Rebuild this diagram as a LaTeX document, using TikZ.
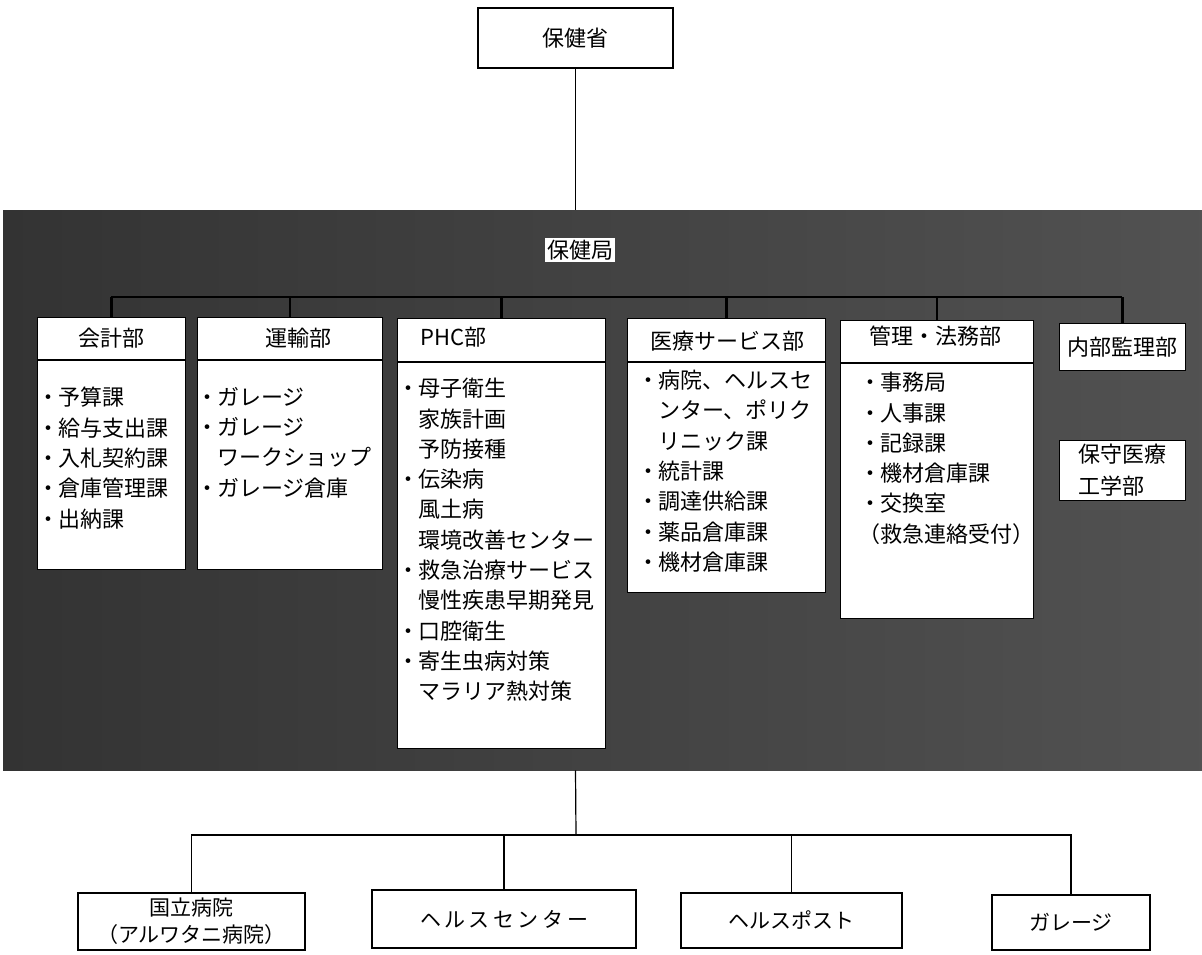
\documentclass[tikz,border=0pt]{standalone}
\usepackage{fontspec}
\setmainfont{Noto Sans CJK JP}
\newcommand\bul{\makebox[0.5em][l]{\hspace*{-0.45em}・}}
\newcommand\indt{\hspace*{0.5em}}
\tikzset{
  band/.style={shade, left color=black!80, middle color=black!55, right color=black!68, inner sep=0pt, anchor=north west},
  dept/.style={draw=black, line width=0.8pt, fill=white, inner sep=0pt, anchor=north west},
  hdr/.style={line width=1.2pt},
  ttl/.style={font=\fontsize{22}{26}\selectfont, inner sep=0pt},
  body/.style={font=\fontsize{22}{30.3}\selectfont, align=left, anchor=north west, inner sep=0pt},
  lbox/.style={draw=black, line width=1.1pt, fill=white, inner sep=0pt, font=\fontsize{21}{27}\selectfont, align=center},
  lbl/.style={fill=white, inner sep=2pt, font=\fontsize{22}{26}\selectfont},
  conn/.style={line width=1.2pt},
  bus/.style={line width=2.2pt, black}
}
\begin{document}
\begin{tikzpicture}[x=1pt,y=-1pt]
\useasboundingbox (0,0) rectangle (1202,954);
\fill[white] (0,0) rectangle (1202,954);

% top box
\node[lbox, font=\fontsize{22}{26}\selectfont, minimum width=195pt, minimum height=60pt] (moh) at (575.5,38) {保健省};

% band
\node[band, minimum width=1199pt, minimum height=560pt] (band) at (3,210) {};
\draw[conn] (moh.south) -- (moh.south |- band.north);
\node[lbl] (kyoku) at (580,250) {保健局};

% department boxes
\node[dept, minimum width=148pt, minimum height=252pt] (kaikei) at (37,317) {};
\node[dept, minimum width=185pt, minimum height=252pt] (unyu) at (197,317) {};
\node[dept, minimum width=208pt, minimum height=430pt] (phc) at (397,318) {};
\node[dept, minimum width=198pt, minimum height=274pt] (iryo) at (627,318) {};
\node[dept, minimum width=193pt, minimum height=298pt] (kanri) at (840,320) {};
\node[dept, minimum width=126pt, minimum height=47pt, font=\fontsize{22}{26}\selectfont] (naibu) at (1059,323) {内部監理部};
\node[dept, minimum width=126pt, minimum height=60pt, align=left, font=\fontsize{22}{32}\selectfont] (hoshu) at (1059,440) {保守医療\\工学部};

% header separators
\draw[hdr] (kaikei.west |- 0,360) -- (kaikei.east |- 0,360);
\draw[hdr] (unyu.west |- 0,360) -- (unyu.east |- 0,360);
\draw[hdr] (phc.west |- 0,362) -- (phc.east |- 0,362);
\draw[hdr] (iryo.west |- 0,362) -- (iryo.east |- 0,362);
\draw[hdr] (kanri.west |- 0,363) -- (kanri.east |- 0,363);

% bus
\coordinate (busL) at (111,297);
\draw[bus] (kaikei.north |- busL) -- (naibu.north |- busL);
\foreach \n in {kaikei,unyu,phc,iryo,kanri,naibu}
  \draw[bus] (\n.north |- busL) -- (\n.north);

% headers
\node[ttl] (kaikeiH) at (111,338) {会計部};
\node[ttl] (unyuH) at (298,338) {運輸部};
\node[ttl, anchor=west] (phcH) at (420,337) {PHC部};
\node[ttl] (iryoH) at (727,341) {医療サービス部};
\node[ttl] (kanriH) at (935,336) {管理・法務部};

% bodies
\node[body] (kaikeiT) at (47,387) {\bul 予算課\\\bul 給与支出課\\\bul 入札契約課\\\bul 倉庫管理課\\\bul 出納課};
\node[body] (unyuT) at (206,387) {\bul ガレージ\\\bul ガレージ\\\indt ワークショップ\\\bul ガレージ倉庫};
\node[body] (phcT) at (407,378) {\bul 母子衛生\\\indt 家族計画\\\indt 予防接種\\\bul 伝染病\\\indt 風土病\\\indt 環境改善センター\\\bul 救急治療サービス\\\indt 慢性疾患早期発見\\\bul 口腔衛生\\\bul 寄生虫病対策\\\indt マラリア熱対策};
\node[body] (iryoT) at (647,370) {\bul 病院、ヘルスセ\\\indt ンター、ポリク\\\indt リニック課\\\bul 統計課\\\bul 調達供給課\\\bul 薬品倉庫課\\\bul 機材倉庫課};
\node[body] (kanriT) at (869,372) {\bul 事務局\\\bul 人事課\\\bul 記録課\\\bul 機材倉庫課\\\bul 交換室\\\hspace*{-0.5em}（救急連絡受付）};

% bottom
\node[lbox, minimum width=227pt, minimum height=57pt] (kokuritsu) at (191.5,921.5) {国立病院\\（アルワタニ病院）};
\node[lbox, minimum width=264pt, minimum height=58pt] (hc) at (504,919) {ヘ\,ル\,ス\,セ\,ン\,タ\,ー};
\node[lbox, minimum width=221pt, minimum height=55pt] (hp) at (791.5,920.5) {ヘルスポスト};
\node[lbox, minimum width=158pt, minimum height=55pt] (garage) at (1071,922.5) {ガレージ};

\coordinate (j) at (576,835);
\draw[conn] (moh.south |- band.south) -- (j);
\draw[conn] (j) -| (kokuritsu.north);
\draw[conn] (j) -| (hc.north);
\draw[conn] (j) -| (hp.north);
\draw[conn] (j) -| (garage.north);
\end{tikzpicture}
\end{document}
